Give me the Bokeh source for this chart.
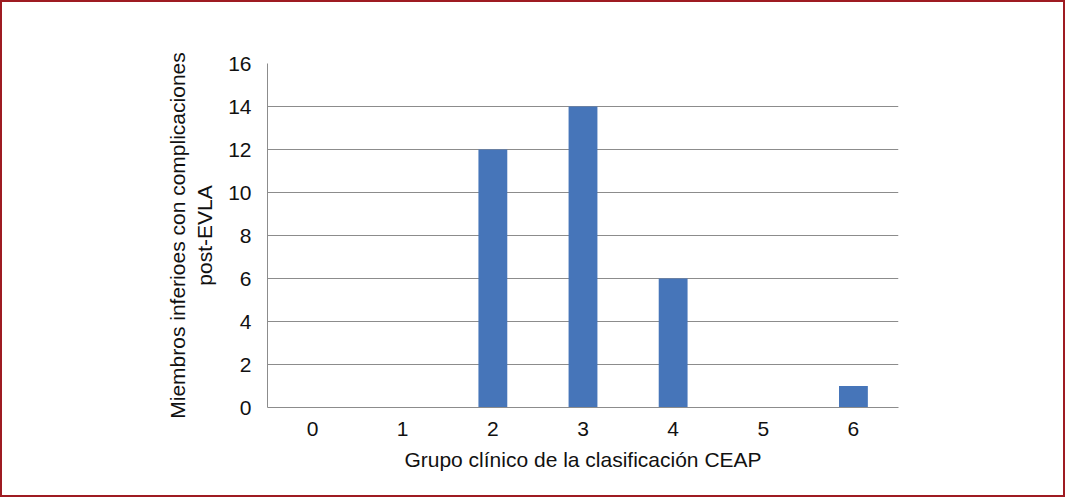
from bokeh.plotting import figure
from bokeh.embed import file_html
from bokeh.resources import INLINE
from bokeh.models import FactorRange, ColumnDataSource

categories = ["0", "1", "2", "3", "4", "5", "6"]
values = [0, 0, 12, 14, 6, 0, 1]
y_ticks = [0, 2, 4, 6, 8, 10, 12, 14, 16]

FONT = "Liberation Sans"
TXT = "#111111"
GRID = "#8c8c8c"

src = ColumnDataSource(dict(cat=categories, val=values))

p = figure(width=1065, height=497, output_backend="svg", toolbar_location=None,
           x_range=FactorRange(*categories, range_padding=0), y_range=(0, 16))
p.min_border_left = 265
p.min_border_right = 169
p.min_border_top = 61
p.min_border_bottom = 92
p.styles = {"border": "2px solid #9e1b22"}
p.outline_line_color = None
p.background_fill_color = "white"
p.border_fill_color = "white"

p.vbar(x="cat", top="val", width=0.32, source=src, fill_color="#4675b9", line_color=None)

p.xgrid.grid_line_color = None
p.ygrid.grid_line_color = GRID
p.ygrid.grid_line_width = 1
p.yaxis.ticker = y_ticks

for ax in (p.xaxis, p.yaxis):
    ax.axis_line_color = GRID
    ax.major_tick_line_color = None
    ax.minor_tick_line_color = None
    ax.major_label_text_font = FONT
    ax.major_label_text_font_size = "21px"
    ax.major_label_text_color = TXT
    ax.axis_label_text_font = FONT
    ax.axis_label_text_font_size = "21px"
    ax.axis_label_text_font_style = "normal"
    ax.axis_label_text_color = TXT

p.yaxis.major_label_standoff = 10
p.xaxis.major_label_standoff = 8
p.xaxis.axis_label = "Grupo clínico de la clasificación CEAP"
p.xaxis.axis_label_standoff = 9
p.yaxis.axis_label = "Miembros inferioes con complicaciones\npost-EVLA"
p.yaxis.axis_label_standoff = 9

open("out.html", "w").write(file_html(p, INLINE))
